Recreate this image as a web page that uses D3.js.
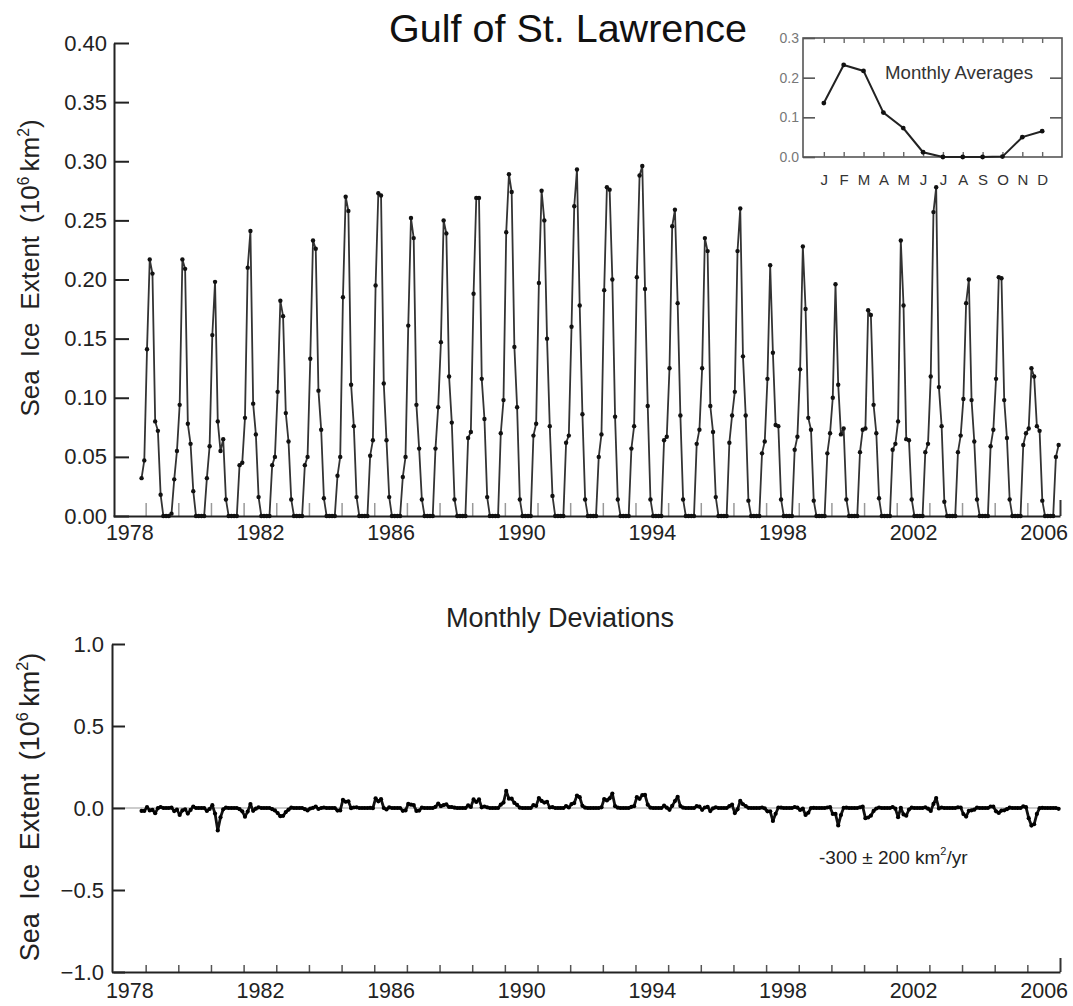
<!DOCTYPE html>
<html><head><meta charset="utf-8">
<script src="https://cdn.jsdelivr.net/npm/d3@7"></script>
<style>
body{margin:0;background:#fff;}
svg{display:block;font-family:"Liberation Sans",Arial,Helvetica,sans-serif;}
</style></head><body>
<svg id="chart" width="1073" height="1006"></svg>
<script>
// ---------------- DATA ----------------
const startYear = 1978, startMonth = 10; // series begins November 1978 (month index 10)
// Monthly sea ice extent (10^6 km^2), Nov 1978 - Dec 2006
const monthlyExtent = [
  0.032, 0.047,
  0.141, 0.217, 0.205, 0.080, 0.072, 0.018, 0, 0, 0, 0.002, 0.031, 0.055, // 1979
  0.094, 0.217, 0.209, 0.078, 0.061, 0.021, 0, 0, 0, 0, 0.032, 0.059,     // 1980
  0.153, 0.198, 0.080, 0.055, 0.065, 0.014, 0, 0, 0, 0, 0.043, 0.045,     // 1981
  0.083, 0.210, 0.241, 0.095, 0.069, 0.016, 0, 0, 0, 0, 0.043, 0.050,     // 1982
  0.105, 0.182, 0.169, 0.087, 0.063, 0.014, 0, 0, 0, 0, 0.043, 0.050,     // 1983
  0.133, 0.233, 0.226, 0.106, 0.073, 0.015, 0, 0, 0, 0, 0.034, 0.050,     // 1984
  0.185, 0.270, 0.258, 0.111, 0.076, 0.016, 0, 0, 0, 0, 0.051, 0.064,     // 1985
  0.195, 0.273, 0.271, 0.112, 0.064, 0.016, 0, 0, 0, 0, 0.033, 0.050,     // 1986
  0.161, 0.252, 0.235, 0.094, 0.057, 0.014, 0, 0, 0, 0, 0.057, 0.092,     // 1987
  0.147, 0.250, 0.239, 0.118, 0.079, 0.014, 0, 0, 0, 0, 0.066, 0.071,     // 1988
  0.188, 0.269, 0.269, 0.116, 0.082, 0.016, 0, 0, 0, 0, 0.070, 0.098,     // 1989
  0.240, 0.289, 0.274, 0.143, 0.092, 0.014, 0, 0, 0, 0, 0.068, 0.078,     // 1990
  0.197, 0.275, 0.250, 0.150, 0.076, 0.017, 0, 0, 0, 0, 0.062, 0.068,     // 1991
  0.160, 0.262, 0.293, 0.178, 0.086, 0.014, 0, 0, 0, 0, 0.050, 0.069,     // 1992
  0.191, 0.278, 0.276, 0.200, 0.084, 0.014, 0, 0, 0, 0, 0.057, 0.076,     // 1993
  0.202, 0.288, 0.296, 0.192, 0.093, 0.014, 0, 0, 0, 0, 0.064, 0.067,     // 1994
  0.125, 0.245, 0.259, 0.180, 0.085, 0.014, 0, 0, 0, 0, 0.061, 0.073,     // 1995
  0.125, 0.235, 0.224, 0.093, 0.071, 0.016, 0, 0, 0, 0, 0.062, 0.085,     // 1996
  0.105, 0.224, 0.260, 0.135, 0.085, 0.013, 0, 0, 0, 0, 0.053, 0.063,     // 1997
  0.116, 0.212, 0.138, 0.077, 0.076, 0.014, 0, 0, 0, 0, 0.056, 0.067,     // 1998
  0.124, 0.228, 0.175, 0.083, 0.073, 0.013, 0, 0, 0, 0, 0.053, 0.070,     // 1999
  0.100, 0.196, 0.111, 0.069, 0.074, 0.014, 0, 0, 0, 0, 0.054, 0.073,     // 2000
  0.074, 0.174, 0.170, 0.094, 0.070, 0.015, 0, 0, 0, 0, 0.056, 0.061,     // 2001
  0.080, 0.233, 0.178, 0.065, 0.064, 0.014, 0, 0, 0, 0, 0.054, 0.061,     // 2002
  0.118, 0.257, 0.278, 0.109, 0.076, 0.012, 0, 0, 0, 0, 0.054, 0.068,     // 2003
  0.099, 0.180, 0.200, 0.098, 0.063, 0.014, 0, 0, 0, 0, 0.059, 0.073,     // 2004
  0.116, 0.202, 0.201, 0.098, 0.066, 0.014, 0, 0, 0, 0, 0.060, 0.070,     // 2005
  0.074, 0.125, 0.118, 0.076, 0.072, 0.013, 0, 0, 0, 0, 0.050, 0.060      // 2006
];
// Monthly deviations (10^6 km^2), Nov 1978 - Dec 2006
const monthlyDeviation = [
  -0.018, -0.018,
  0.005, -0.015, -0.012, -0.032, -0.001, 0.006, 0, 0, 0, 0.002, -0.019, -0.010, // 1979
  -0.042, -0.015, -0.008, -0.034, -0.012, 0.009, 0, 0, 0, 0, -0.018, -0.006,    // 1980
  0.017, -0.034, -0.137, -0.057, -0.008, 0.002, 0, 0, 0, 0, -0.007, -0.020,     // 1981
  -0.053, -0.022, 0.024, -0.017, -0.004, 0.004, 0, 0, 0, 0, -0.007, -0.015,     // 1982
  -0.031, -0.050, -0.048, -0.025, -0.010, 0.002, 0, 0, 0, 0, -0.007, -0.015,    // 1983
  -0.003, 0.001, 0.009, -0.006, 0.000, 0.003, 0, 0, 0, 0, -0.016, -0.015,       // 1984
  0.049, 0.038, 0.041, -0.001, 0.003, 0.004, 0, 0, 0, 0, 0.001, -0.001,         // 1985
  0.059, 0.041, 0.054, 0.000, -0.009, 0.004, 0, 0, 0, 0, -0.017, -0.015,        // 1986
  0.025, 0.020, 0.018, -0.018, -0.016, 0.002, 0, 0, 0, 0, 0.007, 0.027,         // 1987
  0.011, 0.018, 0.022, 0.006, 0.006, 0.002, 0, 0, 0, 0, 0.016, 0.006,           // 1988
  0.052, 0.037, 0.052, 0.004, 0.009, 0.004, 0, 0, 0, 0, 0.020, 0.033,           // 1989
  0.104, 0.057, 0.057, 0.031, 0.019, 0.002, 0, 0, 0, 0, 0.018, 0.013,           // 1990
  0.061, 0.043, 0.033, 0.038, 0.003, 0.005, 0, 0, 0, 0, 0.012, 0.003,           // 1991
  0.024, 0.030, 0.076, 0.066, 0.013, 0.002, 0, 0, 0, 0, 0.000, 0.004,           // 1992
  0.055, 0.046, 0.059, 0.088, 0.011, 0.002, 0, 0, 0, 0, 0.007, 0.011,           // 1993
  0.066, 0.056, 0.079, 0.080, 0.020, 0.002, 0, 0, 0, 0, 0.014, 0.002,           // 1994
  -0.011, 0.013, 0.042, 0.068, 0.012, 0.002, 0, 0, 0, 0, 0.011, 0.008,          // 1995
  -0.011, 0.003, 0.007, -0.019, -0.002, 0.004, 0, 0, 0, 0, 0.012, 0.020,        // 1996
  -0.031, -0.008, 0.043, 0.023, 0.012, 0.001, 0, 0, 0, 0, 0.003, -0.002,        // 1997
  -0.020, -0.020, -0.079, -0.035, 0.003, 0.002, 0, 0, 0, 0, 0.006, 0.002,       // 1998
  -0.012, -0.004, -0.042, -0.029, 0.000, 0.001, 0, 0, 0, 0, 0.003, 0.005,       // 1999
  -0.036, -0.036, -0.106, -0.043, 0.001, 0.002, 0, 0, 0, 0, 0.004, 0.008,       // 2000
  -0.062, -0.058, -0.047, -0.018, -0.003, 0.003, 0, 0, 0, 0, 0.006, -0.004,     // 2001
  -0.056, 0.001, -0.039, -0.047, -0.009, 0.002, 0, 0, 0, 0, 0.004, -0.004,      // 2002
  -0.018, 0.025, 0.061, -0.003, 0.003, 0.000, 0, 0, 0, 0, 0.004, 0.003,         // 2003
  -0.037, -0.052, -0.017, -0.014, -0.010, 0.002, 0, 0, 0, 0, 0.009, 0.008,      // 2004
  -0.020, -0.030, -0.016, -0.014, -0.007, 0.002, 0, 0, 0, 0, 0.010, 0.005,      // 2005
  -0.062, -0.107, -0.099, -0.036, -0.001, 0.001, 0, 0, 0, 0, 0.000, -0.005      // 2006
];
const monthlyAverages = [0.136, 0.232, 0.217, 0.112, 0.073, 0.012, 0.0, 0.0, 0.0, 0.001, 0.050, 0.065];
const monthLabels = ["J","F","M","A","M","J","J","A","S","O","N","D"];
const yearLabels = [1978, 1982, 1986, 1990, 1994, 1998, 2002, 2006];
const extentTicks = [0, 0.05, 0.10, 0.15, 0.20, 0.25, 0.30, 0.35, 0.40];
const deviationTicks = [-1.0, -0.5, 0.0, 0.5, 1.0];
const insetTicks = [0.0, 0.1, 0.2, 0.3];
const titleText = "Gulf of St. Lawrence";
const subTitleText = "Monthly Deviations";
const insetTitleText = "Monthly Averages";
const trendText = "-300 \u00B1 200 km";

// ---------------- DRAW ----------------
const svg = d3.select("#chart");
const timeOf = i => startYear + (startMonth + i + 0.5) / 12;
const yearTicks = d3.range(1979, 2007);

const x = d3.scaleLinear().domain([1978, 2007]).range([113, 1060]);
const yTop = d3.scaleLinear().domain([0, 0.4]).range([516, 43]);
const yBot = d3.scaleLinear().domain([-1, 1]).range([972, 644]);

function styleAxis(g, color, width) {
  g.select(".domain").attr("stroke", color).attr("stroke-width", width);
  g.selectAll(".tick line").attr("stroke", color).attr("stroke-width", width);
  g.selectAll(".tick text").attr("fill", "#222");
}

// Title
svg.append("text").attr("x", 568).attr("y", 42).attr("text-anchor", "middle")
  .attr("font-size", 39.5).attr("fill", "#111").text(titleText);

// ---- Top panel ----
const gTopMinor = svg.append("g").attr("transform", `translate(0,516)`)
  .call(d3.axisBottom(x).tickValues(yearTicks).tickSize(-13).tickSizeOuter(0).tickFormat(""));
gTopMinor.select(".domain").remove();
gTopMinor.selectAll(".tick line").attr("stroke", "#999").attr("stroke-width", 1.5);
svg.append("g").attr("transform", `translate(0,516)`)
  .call(d3.axisBottom(x).tickValues([2007]).tickSize(-16).tickSizeOuter(0).tickFormat(""))
  .call(g => { g.select(".domain").remove(); g.selectAll("line").attr("stroke", "#333").attr("stroke-width", 2); });
const gTopX = svg.append("g").attr("transform", `translate(0,516)`)
  .call(d3.axisBottom(x).tickValues(yearLabels.map(d => d + 0.5)).tickSize(0).tickSizeOuter(0).tickPadding(9)
    .tickFormat(d => String(Math.floor(d))));
styleAxis(gTopX, "#222", 2);
gTopX.selectAll(".tick text").attr("font-size", 21.5);
const gTopY = svg.append("g").attr("transform", `translate(114,0)`)
  .call(d3.axisLeft(yTop).tickValues(extentTicks).tickSize(-15).tickSizeOuter(0).tickPadding(8)
    .tickFormat(d3.format(".2f")));
styleAxis(gTopY, "#222", 2);
gTopY.selectAll(".tick text").attr("font-size", 22).attr("x", -7);

const lineTop = d3.line().x((d, i) => x(timeOf(i))).y(d => yTop(d));
svg.append("path").datum(monthlyExtent).attr("d", lineTop)
  .attr("fill", "none").attr("stroke", "#333").attr("stroke-width", 1.8).attr("stroke-linejoin", "round");
svg.append("g").selectAll("circle").data(monthlyExtent).join("circle")
  .attr("cx", (d, i) => x(timeOf(i))).attr("cy", d => yTop(d)).attr("r", 2.2).attr("fill", "#111");

function yTitle(cx, cy, size) {
  const t = svg.append("text").attr("transform", `translate(${cx},${cy}) rotate(-90)`)
    .attr("text-anchor", "middle").attr("font-size", size).attr("fill", "#222");
  t.append("tspan").text("Sea\u2002Ice\u2002Extent\u2002(10");
  t.append("tspan").attr("font-size", size * 0.6).attr("dy", -size * 0.4).text("6");
  t.append("tspan").attr("dy", size * 0.4).text("\u2009km");
  t.append("tspan").attr("font-size", size * 0.6).attr("dy", -size * 0.4).text("2");
  t.append("tspan").attr("dy", size * 0.4).text(")");
}
yTitle(39, 268, 26);

// ---- Inset ----
const xIn = d3.scaleLinear().domain([-1.05, 12]).range([803, 1062]);
const yIn = d3.scaleLinear().domain([0, 0.3]).range([157, 38]);
const months = d3.range(12);
svg.append("rect").attr("x", 803).attr("y", 38).attr("width", 259).attr("height", 119)
  .attr("fill", "none").attr("stroke", "#555").attr("stroke-width", 1.6);
const gInL = svg.append("g").attr("transform", "translate(803,0)")
  .call(d3.axisLeft(yIn).tickValues(insetTicks).tickSize(-12).tickSizeOuter(0).tickPadding(4).tickFormat(d3.format(".1f")));
gInL.select(".domain").remove();
gInL.selectAll(".tick line").attr("stroke", "#555").attr("stroke-width", 1.6);
gInL.selectAll(".tick text").attr("font-size", 14).attr("fill", "#777");
const gInR = svg.append("g").attr("transform", "translate(1062,0)")
  .call(d3.axisRight(yIn).tickValues([0.1, 0.2]).tickSize(-12).tickSizeOuter(0).tickFormat(""));
gInR.select(".domain").remove();
gInR.selectAll(".tick line").attr("stroke", "#555").attr("stroke-width", 1.6);
const gInT = svg.append("g").attr("transform", "translate(0,38)")
  .call(d3.axisTop(xIn).tickValues(months).tickSize(-5).tickSizeOuter(0).tickFormat(""));
gInT.select(".domain").remove();
gInT.selectAll(".tick line").attr("stroke", "#666").attr("stroke-width", 1.4);
const gInB = svg.append("g").attr("transform", "translate(0,157)")
  .call(d3.axisBottom(xIn).tickValues(months).tickSize(-5).tickSizeOuter(0).tickPadding(17)
    .tickFormat(i => monthLabels[i]));
gInB.select(".domain").remove();
gInB.selectAll(".tick line").attr("stroke", "#666").attr("stroke-width", 1.4);
gInB.selectAll(".tick text").attr("font-size", 15).attr("fill", "#333");
const lineIn = d3.line().x((d, i) => xIn(i)).y(d => yIn(d));
svg.append("path").datum(monthlyAverages).attr("d", lineIn)
  .attr("fill", "none").attr("stroke", "#222").attr("stroke-width", 2);
svg.append("g").selectAll("circle").data(monthlyAverages).join("circle")
  .attr("cx", (d, i) => xIn(i)).attr("cy", d => yIn(d)).attr("r", 2.4).attr("fill", "#111");
svg.append("text").attr("x", 885).attr("y", 79).attr("font-size", 18).attr("fill", "#333")
  .attr("textLength", 148).attr("lengthAdjust", "spacingAndGlyphs").text(insetTitleText);

// ---- Bottom panel ----
svg.append("text").attr("x", 560).attr("y", 627).attr("text-anchor", "middle")
  .attr("font-size", 27).attr("fill", "#222").text(subTitleText);
svg.append("line").attr("x1", x(1978)).attr("x2", x(2007)).attr("y1", yBot(0)).attr("y2", yBot(0))
  .attr("stroke", "#999").attr("stroke-width", 1.2);
const gBotMinor = svg.append("g").attr("transform", `translate(0,972)`)
  .call(d3.axisBottom(x).tickValues(yearTicks).tickSize(-7).tickSizeOuter(0).tickFormat(""));
gBotMinor.select(".domain").remove();
gBotMinor.selectAll(".tick line").attr("stroke", "#555").attr("stroke-width", 1.5);
svg.append("g").attr("transform", `translate(0,972)`)
  .call(d3.axisBottom(x).tickValues([2007]).tickSize(-14).tickSizeOuter(0).tickFormat(""))
  .call(g => { g.select(".domain").remove(); g.selectAll("line").attr("stroke", "#333").attr("stroke-width", 2); });
const gBotX = svg.append("g").attr("transform", `translate(0,972)`)
  .call(d3.axisBottom(x).tickValues(yearLabels.map(d => d + 0.5)).tickSize(0).tickSizeOuter(0).tickPadding(11)
    .tickFormat(d => String(Math.floor(d))));
styleAxis(gBotX, "#222", 2);
gBotX.selectAll(".tick text").attr("font-size", 21.5);
const gBotY = svg.append("g").attr("transform", `translate(112,0)`)
  .call(d3.axisLeft(yBot).tickValues(deviationTicks).tickSize(-13).tickSizeOuter(0).tickPadding(8)
    .tickFormat(d3.format(".1f")));
styleAxis(gBotY, "#222", 2);
gBotY.selectAll(".tick text").attr("font-size", 22);

const lineBot = d3.line().x((d, i) => x(timeOf(i))).y(d => yBot(d));
svg.append("path").datum(monthlyDeviation).attr("d", lineBot)
  .attr("fill", "none").attr("stroke", "#111").attr("stroke-width", 2.8).attr("stroke-linejoin", "round");
svg.append("g").selectAll("circle").data(monthlyDeviation).join("circle")
  .attr("cx", (d, i) => x(timeOf(i))).attr("cy", d => yBot(d)).attr("r", 2.1).attr("fill", "#000");

yTitle(39, 807, 27);

const tr = svg.append("text").attr("x", 819).attr("y", 864).attr("font-size", 19).attr("fill", "#222");
tr.append("tspan").text(trendText);
tr.append("tspan").attr("font-size", 11).attr("dy", -9).text("2");
tr.append("tspan").attr("dy", 9).text("/yr");
</script>
</body></html>
